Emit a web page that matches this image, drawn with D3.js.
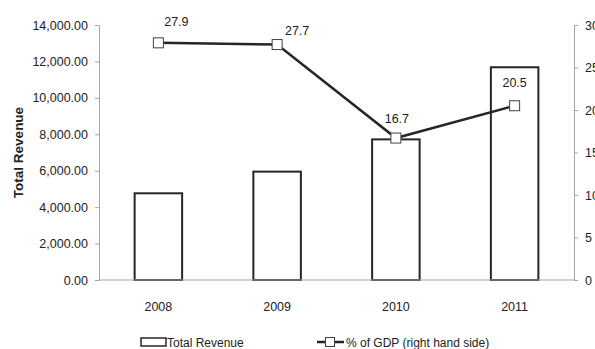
<!DOCTYPE html>
<html>
<head>
<meta charset="utf-8">
<script src="https://cdn.jsdelivr.net/npm/d3@7"></script>
<style>
  html, body { margin: 0; padding: 0; background: #fff; }
  svg { display: block; font-family: "Liberation Sans", Arial, sans-serif; }
</style>
</head>
<body>
<svg id="chart" width="595" height="349"></svg>
<script>
// Total revenue (bars, left axis) and revenue as % of GDP (line, right axis)
const years = ["2008", "2009", "2010", "2011"];
const totalRevenue = [4760, 5950, 7720, 11680];
const pctGDP = [27.9, 27.7, 16.7, 20.5];
const leftTicks = [0, 2000, 4000, 6000, 8000, 10000, 12000, 14000];
const rightTicks = [0, 5, 10, 15, 20, 25, 30];

// label placement relative to each marker
const labelShift = [[18, -17], [20, -10], [1, -15], [0, -19]];

const svg = d3.select("#chart");
const m = { left: 99, right: 574, top: 25, bottom: 280 };

const x = d3.scaleBand().domain(years).range([m.left, m.right]).paddingInner(0.6).paddingOuter(0.3);
const yL = d3.scaleLinear().domain([0, 14000]).range([m.bottom, m.top]);
const yR = d3.scaleLinear().domain([0, 30]).range([m.bottom, m.top]);
const fmt = d3.format(",.2f");

// left axis
const gL = svg.append("g").attr("transform", `translate(${m.left},0)`)
  .call(d3.axisLeft(yL).tickValues(leftTicks).tickFormat(fmt).tickSize(4).tickPadding(7));
// right axis
const gR = svg.append("g").attr("transform", `translate(${m.right},0)`)
  .call(d3.axisRight(yR).tickValues(rightTicks).tickFormat(d3.format("d")).tickSize(4).tickPadding(7));
[gL, gR].forEach(g => {
  g.select(".domain").attr("stroke", "#a6a6a6").attr("stroke-width", 1);
  g.selectAll(".tick line").attr("stroke", "#a6a6a6");
  g.selectAll(".tick text").attr("fill", "#222").attr("font-size", 12.5);
});

// bars
svg.append("g").selectAll("rect").data(years).join("rect")
  .attr("x", d => x(d))
  .attr("width", x.bandwidth())
  .attr("y", (d, i) => yL(totalRevenue[i]))
  .attr("height", (d, i) => yL(0) - yL(totalRevenue[i]))
  .attr("fill", "#fff").attr("stroke", "#262626").attr("stroke-width", 2);

// x baseline
svg.append("line").attr("x1", m.left).attr("x2", m.right)
  .attr("y1", yL(0)).attr("y2", yL(0)).attr("stroke", "#a6a6a6");

// x category labels
svg.append("g").selectAll("text").data(years).join("text")
  .attr("x", d => x(d) + x.bandwidth() / 2).attr("y", 311)
  .attr("text-anchor", "middle").attr("font-size", 12.5).attr("fill", "#222")
  .text(d => d);

// % of GDP line
const cx = (d, i) => x(years[i]) + x.bandwidth() / 2;
const line = d3.line().x(cx).y(d => yR(d));
svg.append("path").datum(pctGDP).attr("d", line)
  .attr("fill", "none").attr("stroke", "#262626").attr("stroke-width", 2.5);
svg.append("g").selectAll("rect").data(pctGDP).join("rect")
  .attr("x", (d, i) => cx(d, i) - 5).attr("y", d => yR(d) - 5)
  .attr("width", 10).attr("height", 10)
  .attr("fill", "#fff").attr("stroke", "#404040").attr("stroke-width", 1);
svg.append("g").selectAll("text").data(pctGDP).join("text")
  .attr("x", (d, i) => cx(d, i) + labelShift[i][0])
  .attr("y", (d, i) => yR(d) + labelShift[i][1])
  .attr("text-anchor", "middle").attr("font-size", 12.5).attr("fill", "#222")
  .text(d => d3.format(".1f")(d));

// y axis title
svg.append("text")
  .attr("transform", `translate(23,${(m.top + m.bottom) / 2}) rotate(-90)`)
  .attr("text-anchor", "middle").attr("font-size", 13.5).attr("font-weight", "bold").attr("fill", "#222")
  .text("Total Revenue");

// legend
const lg = svg.append("g");
lg.append("rect").attr("x", 141).attr("y", 338).attr("width", 25).attr("height", 8)
  .attr("fill", "#fff").attr("stroke", "#262626").attr("stroke-width", 1.5);
lg.append("text").attr("x", 167).attr("y", 347).attr("font-size", 12).attr("fill", "#222")
  .text("Total Revenue");
lg.append("line").attr("x1", 317).attr("x2", 344).attr("y1", 342).attr("y2", 342)
  .attr("stroke", "#262626").attr("stroke-width", 2.5);
lg.append("rect").attr("x", 325.5).attr("y", 337.5).attr("width", 9).attr("height", 9)
  .attr("fill", "#fff").attr("stroke", "#404040").attr("stroke-width", 1);
lg.append("text").attr("x", 346).attr("y", 347).attr("font-size", 12).attr("fill", "#222")
  .text("% of GDP (right hand side)");
</script>
</body>
</html>
